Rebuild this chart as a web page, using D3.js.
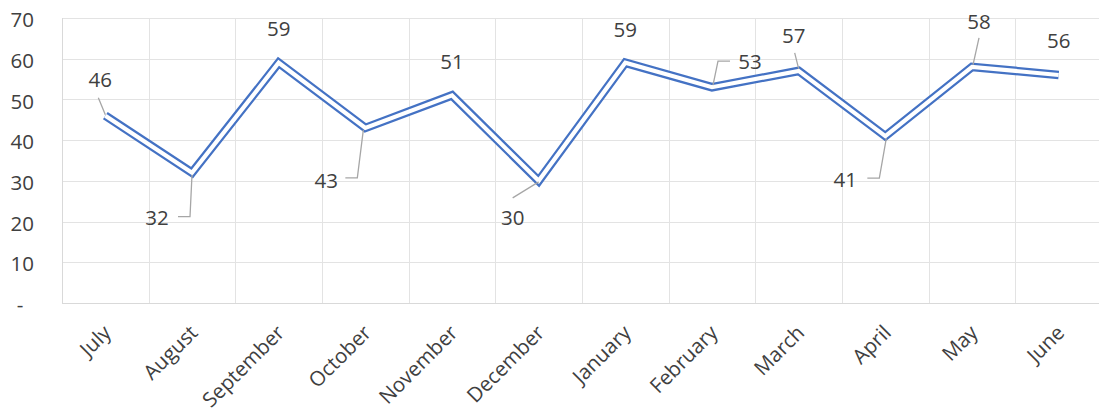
<!DOCTYPE html>
<html>
<head>
<meta charset="utf-8">
<script src="https://cdn.jsdelivr.net/npm/d3@7"></script>
<style>
  html, body { margin: 0; padding: 0; background: #ffffff; }
  svg { display: block; }
  text { font-family: "Open Sans", "Noto Sans", sans-serif; }
</style>
</head>
<body>
<svg id="chart" width="1099" height="412"></svg>
<script>
// ---- data ----
const months = ["July", "August", "September", "October", "November", "December",
                "January", "February", "March", "April", "May", "June"];
const values = [46, 32, 59, 43, 51, 30, 59, 53, 57, 41, 58, 56];
const yTicks = [0, 10, 20, 30, 40, 50, 60, 70];
const yTickLabels = ["-", "10", "20", "30", "40", "50", "60", "70"];

// ---- label layout (pixel offsets from each point) ----
const labelOffsets = [[-5,-36],[-35,45],[0,-34],[-39,53],[0,-34],[-26,37],[0,-33],[38,-25],[-5,-35],[-40,44],[7,-45],[0,-34]];
const leaderPaths = [
  [[-7,-18],[0,-1]],
  [[-14,44],[-2,44],[0,2]],
  null,
  [[-20,50],[-8,50],[-2,2]],
  null,
  [[-26,17],[0,1]],
  null,
  [[18,-26],[6,-26],[1,-2]],
  [[-4,-18],[0,-2]],
  [[-18,42],[-6,42],[1,2]],
  [[7,-29],[1,-2]],
  null
];

const svg = d3.select("#chart");
const mLeft = 62, mRight = 1102, mTop = 18, mBottom = 303;
const fs = 20.5;

const x = d3.scaleBand().domain(months).range([mLeft, mRight]).paddingInner(0).paddingOuter(0);
const y = d3.scaleLinear().domain([0, 70]).range([mBottom, mTop]);
const cx = d => x(d) + x.bandwidth() / 2;

// horizontal gridlines
svg.append("g")
  .selectAll("line").data(yTicks.filter(t => t > 0)).join("line")
  .attr("x1", mLeft).attr("x2", 1099)
  .attr("y1", d => Math.round(y(d)) + 0.5).attr("y2", d => Math.round(y(d)) + 0.5)
  .attr("stroke", "#e3e3e3").attr("stroke-width", 1);

// vertical gridlines (between categories)
const vlines = months.map(m => x(m)).concat([mRight]);
svg.append("g")
  .selectAll("line").data(vlines.slice(1)).join("line")
  .attr("x1", d => Math.round(d) + 0.5).attr("x2", d => Math.round(d) + 0.5)
  .attr("y1", mTop).attr("y2", mBottom)
  .attr("stroke", "#e3e3e3").attr("stroke-width", 1);

// axes lines
svg.append("line").attr("x1", mLeft + 0.5).attr("x2", mLeft + 0.5).attr("y1", mTop).attr("y2", mBottom)
  .attr("stroke", "#d9d9d9").attr("stroke-width", 1);
svg.append("line").attr("x1", mLeft).attr("x2", 1099).attr("y1", mBottom + 0.5).attr("y2", mBottom + 0.5)
  .attr("stroke", "#d9d9d9").attr("stroke-width", 1);

// y tick labels
svg.append("g")
  .selectAll("text").data(yTicks).join("text")
  .attr("x", 34).attr("y", d => y(d) + 2)
  .attr("dy", "0.35em")
  .attr("text-anchor", "end")
  .attr("xml:space", "preserve")
  .style("white-space", "pre")
  .attr("font-size", fs).attr("fill", "#404040")
  .text((d, i) => i === 0 ? "-  " : yTickLabels[i]);

// x tick labels
svg.append("g")
  .selectAll("text").data(months).join("text")
  .attr("transform", d => `translate(${cx(d) + 7},${334}) rotate(-45)`)
  .attr("text-anchor", "end")
  .attr("font-size", fs).attr("fill", "#404040")
  .text(d => d);

// double (compound) line
const line = d3.line().x((d, i) => cx(months[i])).y(d => y(d));
svg.append("path").datum(values).attr("d", line)
  .attr("fill", "none").attr("stroke", "#4472c4").attr("stroke-width", 8.6)
  .attr("stroke-linejoin", "miter").attr("stroke-miterlimit", 10);
svg.append("path").datum(values).attr("d", line)
  .attr("fill", "none").attr("stroke", "#ffffff").attr("stroke-width", 4.2)
  .attr("stroke-linejoin", "miter").attr("stroke-miterlimit", 10);

// leader lines
const lg = svg.append("g");
values.forEach((v, i) => {
  const p = leaderPaths[i];
  if (!p) return;
  const px = cx(months[i]), py = y(v);
  lg.append("path")
    .attr("d", d3.line()(p.map(q => [px + q[0], py + q[1]])))
    .attr("fill", "none").attr("stroke", "#a6a6a6").attr("stroke-width", 1.3);
});

// data labels
svg.append("g")
  .selectAll("text").data(values).join("text")
  .attr("x", (d, i) => cx(months[i]) + labelOffsets[i][0])
  .attr("y", (d, i) => y(d) + labelOffsets[i][1])
  .attr("dy", "0.35em")
  .attr("text-anchor", "middle")
  .attr("font-size", fs).attr("fill", "#404040")
  .text(d => d);
</script>
</body>
</html>
